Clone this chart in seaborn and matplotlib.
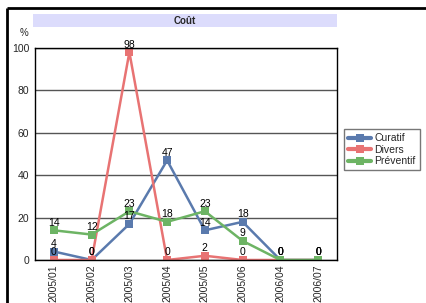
import pandas as pd
import matplotlib
matplotlib.use("Agg")
import matplotlib.pyplot as plt
from matplotlib.patches import Rectangle
from matplotlib.lines import Line2D
import seaborn as sns

# --- Data ---
months = ['2005/01', '2005/02', '2005/03', '2005/04', '2005/05', '2005/06', '2006/04', '2006/07']
curatif = [4, 0, 17, 47, 14, 18, 0, 0]
divers = [0, 0, 98, 0, 2, 0, 0, 0]
preventif = [14, 12, 23, 18, 23, 9, 0, 0]
series_names = ['Curatif', 'Divers', 'Préventif']
colors = ['#5a7aad', '#e87373', '#6db464']

df = pd.DataFrame({'mois': months, 'Curatif': curatif, 'Divers': divers, 'Préventif': preventif})
long_df = df.melt(id_vars='mois', var_name='type', value_name='pct')
long_df['pos'] = long_df['mois'].map({m: i for i, m in enumerate(months)})

sns.set_style("white")
plt.rcParams['font.family'] = ['Liberation Sans', 'DejaVu Sans']

fig = plt.figure(figsize=(4.26, 3.03), dpi=100)
ax = fig.add_axes([35 / 426, 43 / 303, 302 / 426, 212 / 303])

sns.lineplot(data=long_df, x='pos', y='pct', hue='type', hue_order=series_names,
             palette=colors, marker='s', markersize=6, markeredgewidth=0,
             linewidth=1.8, ax=ax, legend=False)

# value labels above each point
for name in series_names:
    for i, v in enumerate(df[name]):
        ax.text(i, v + 1.2, str(v), ha='center', va='bottom', fontsize=7.5, color='black')

ax.set_xlim(-0.5, len(months) - 0.5)
ax.set_ylim(0, 100)
ax.set_yticks([0, 20, 40, 60, 80, 100])
ax.set_xticks(range(len(months)))
ax.set_xticklabels(months, rotation=90, fontsize=7.5)
ax.tick_params(axis='y', labelsize=7.5, length=0, pad=4)
ax.tick_params(axis='x', length=0, pad=3)
ax.set_xlabel('')
ax.set_ylabel('')
ax.yaxis.grid(True, color='#555555', linewidth=1)
ax.xaxis.grid(False)
ax.set_axisbelow(True)
for s in ax.spines.values():
    s.set_color('black')
    s.set_linewidth(1)
    s.set_visible(True)

# "%" unit label
fig.text(20 / 426, 1 - 33 / 303, '%', fontsize=7, ha='left', va='center')

# title band
fig.patches.append(Rectangle((33 / 426, 1 - 27 / 303), 304 / 426, 13 / 303,
                             transform=fig.transFigure, facecolor='#dcdcfc', edgecolor='none'))
fig.text(185 / 426, 1 - 20.5 / 303, 'Coût', fontsize=7, fontweight='bold', ha='center', va='center')

# image frame (top and left only)
fig.lines.append(Line2D([7 / 426, 1], [1 - 8 / 303, 1 - 8 / 303], transform=fig.transFigure,
                        color='black', linewidth=2, solid_capstyle='butt'))
fig.lines.append(Line2D([7 / 426, 7 / 426], [0, 1 - 8 / 303], transform=fig.transFigure,
                        color='black', linewidth=2, solid_capstyle='butt'))

# legend
handles = [Line2D([0], [0], color=c, marker='s', markersize=6, markeredgewidth=0, linewidth=3)
           for c in colors]
leg = fig.legend(handles, series_names, loc='upper left',
                 bbox_to_anchor=(344 / 426, 1 - 129 / 303), fontsize=7.5,
                 frameon=True, fancybox=False, handlelength=2.2, handletextpad=0.3,
                 borderpad=0.4, labelspacing=0.15, borderaxespad=0)
leg.get_frame().set_edgecolor('#555555')
leg.get_frame().set_linewidth(1)

fig.savefig('out.png', dpi=100)
